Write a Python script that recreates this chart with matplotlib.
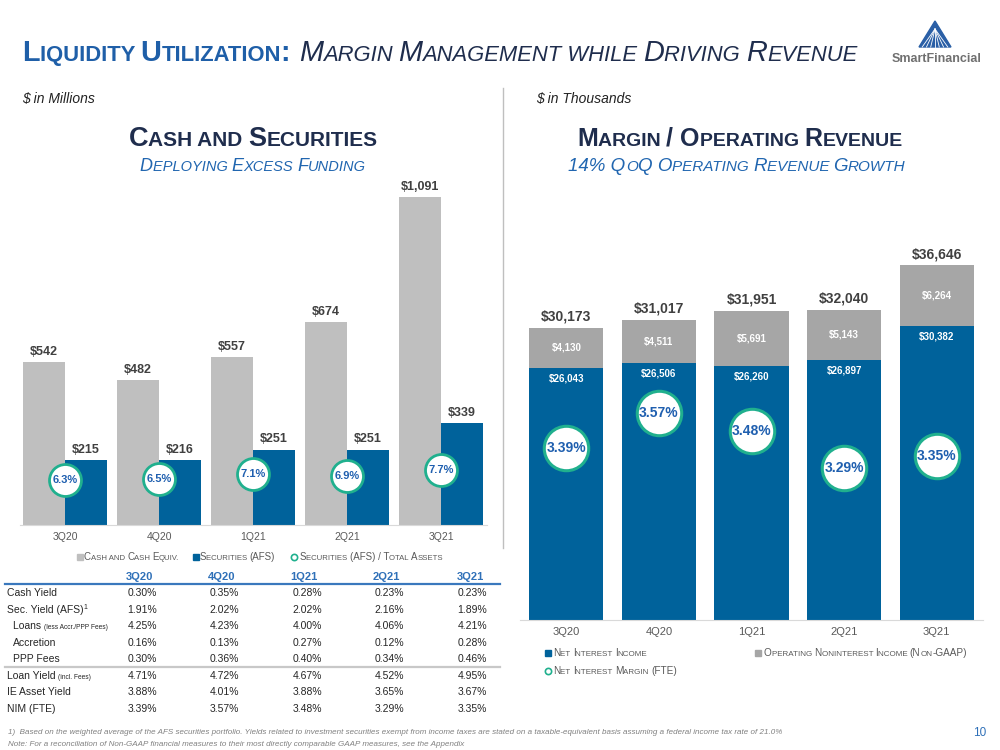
import numpy as np
import matplotlib
matplotlib.use("Agg")
import matplotlib.pyplot as plt
from matplotlib import font_manager
from matplotlib.lines import Line2D
from matplotlib.patches import Polygon

W, H = 1000, 750


def find_family(name, fallback):
    try:
        font_manager.findfont(name, fallback_to_default=False)
        return name
    except ValueError:
        return fallback


NARROW = find_family("Liberation Sans Narrow", "Liberation Sans")
SANS = "Liberation Sans"
plt.rcParams["font.family"] = SANS

# ---- data ----
quarters = ["3Q20", "4Q20", "1Q21", "2Q21", "3Q21"]
cash = [542, 482, 557, 674, 1091]
securities = [215, 216, 251, 251, 339]
sec_to_assets = [6.3, 6.5, 7.1, 6.9, 7.7]

net_interest = [26043, 26506, 26260, 26897, 30382]
nonint_income = [4130, 4511, 5691, 5143, 6264]
total_revenue = [30173, 31017, 31951, 32040, 36646]
nim = [3.39, 3.57, 3.48, 3.29, 3.35]

cash_yield = [0.30, 0.35, 0.28, 0.23, 0.23]
sec_yield = [1.91, 2.02, 2.02, 2.16, 1.89]
loans_core = [4.25, 4.23, 4.00, 4.06, 4.21]
accretion = [0.16, 0.13, 0.27, 0.12, 0.28]
ppp_fees = [0.30, 0.36, 0.40, 0.34, 0.46]
loan_yield = [4.71, 4.72, 4.67, 4.52, 4.95]
ie_asset_yield = [3.88, 4.01, 3.88, 3.65, 3.67]
nim_fte = [3.39, 3.57, 3.48, 3.29, 3.35]

BLUE = "#00629B"
NAVY = "#1F2D4D"
TITLE_BLUE = "#1F5FA8"
TEAL = "#20B08E"
TXT_BLUE = "#1F5FAF"
DARK = "#404040"
GREY_TXT = "#595959"

fig = plt.figure(figsize=(10, 7.5), dpi=100)
renderer = fig.canvas.get_renderer()


def px(x, y):
    return x / W, 1 - y / H


def advance(s, size, family, **kw):
    # pen advance of s, measured between two bars so bearings and spaces count
    if not s:
        return 0.0
    t = fig.text(0, 0, "|" + s + "|", fontsize=size, family=family, **kw)
    a = t.get_window_extent(renderer).width
    t.set_text("||")
    b = t.get_window_extent(renderer).width
    t.remove()
    return a - b


def run_text(x, y, runs, ha="left", family=SANS, **kw):
    # draws pieces of text of differing sizes one after another on a baseline
    pieces = []
    cursor = 0.0
    for text, size, *rest in runs:
        rise = rest[0] if rest else 0
        body = text.lstrip(" ")
        lead = advance(text[:len(text) - len(body)], size, family, **kw)
        if body.strip():
            t = fig.text(0, 0, body, fontsize=size, family=family, va="baseline", **kw)
            pieces.append((t, cursor + lead, rise))
        cursor += advance(text, size, family, **kw)
    start = x - {"left": 0, "center": cursor / 2, "right": cursor}[ha]
    for t, off, rise in pieces:
        t.set_position(px(start + off, y - rise))
    return cursor


def caps(s, big, small):
    # fake small caps: lower case letters drawn as smaller capitals
    runs = []
    for ch in s:
        if ch in ". " and runs:
            size = runs[-1][1]
        else:
            size = small if ch.islower() else big
        if runs and runs[-1][1] == size:
            runs[-1][0] += ch.upper()
        else:
            runs.append([ch.upper(), size])
    return runs


# ---- title ----
n = run_text(22, 61, caps("Liquidity Utilization: ", 20.8, 15.8), family=NARROW,
             color=TITLE_BLUE, weight="bold")
run_text(22 + n, 61, caps("Margin Management while Driving Revenue", 20.8, 15.8), family=NARROW,
         color=NAVY, style="italic")

# logo
fig.add_artist(Polygon([px(935, 21), px(919, 47), px(951, 47)], closed=True,
                       transform=fig.transFigure, color="#2A5FA6"))
for k in np.linspace(0.1, 0.9, 7):
    xe = 919 + 32 * k
    fig.add_artist(Line2D([935 / W, xe / W], [1 - 29 / H, 1 - 47 / H], color="white", lw=0.6,
                          transform=fig.transFigure))
fig.text(*px(937, 62), "SmartFinancial", fontsize=9, weight="bold", color="#707070",
         ha="center", va="baseline")

# sub headers
run_text(22, 103, [["$ in Millions", 10]], family=NARROW, style="italic", color="#222222")
run_text(536, 103, [["$ in Thousands", 10]], family=NARROW, style="italic", color="#222222")
fig.add_artist(Line2D([503 / W, 503 / W], [1 - 88 / H, 1 - 548 / H], color="#BFBFBF", lw=1,
                      transform=fig.transFigure))

run_text(253, 146, caps("Cash and Securities", 19.5, 15), ha="center", family=NARROW,
         color=NAVY, weight="bold")
run_text(253, 171, caps("Deploying Excess Funding", 13, 10.5), ha="center", family=NARROW,
         color="#2166B0", style="italic")
run_text(740, 146, caps("Margin / Operating Revenue", 18, 14), ha="center", family=NARROW,
         color=NAVY, weight="bold")
run_text(737, 171, caps("14% QoQ Operating Revenue Growth", 13.5, 11), ha="center", family=NARROW,
         color="#2166B0", style="italic")


def clean(ax, keep_bottom=True):
    for side in ("top", "right", "left"):
        ax.spines[side].set_visible(False)
    ax.spines["bottom"].set_visible(keep_bottom)
    ax.spines["bottom"].set_color("#D9D9D9")
    ax.set_yticks([])
    ax.patch.set_alpha(0)


# ---- left chart: cash and securities ----
x = np.arange(len(quarters))
w = 0.447
ax1 = fig.add_axes([20 / W, 1 - 525 / H, 467 / W, 345 / H])
ax1.bar(x - w / 2, cash, w, color="#BFBFBF")
ax1.bar(x + w / 2, securities, w, color=BLUE)
ax1.set_xlim(-0.479, 4.489)
ax1.set_ylim(0, 1147)
for i in range(len(x)):
    ax1.annotate(f"${cash[i]:,}", (x[i] - w / 2, cash[i]), xytext=(0, 3), textcoords="offset points",
                 ha="center", va="bottom", fontsize=9, weight="bold", color=DARK)
    ax1.annotate(f"${securities[i]:,}", (x[i] + w / 2, securities[i]), xytext=(0, 3),
                 textcoords="offset points", ha="center", va="bottom", fontsize=9, weight="bold",
                 color=DARK)
ax1.set_xticks(x, quarters)
ax1.tick_params(length=0, labelsize=7.5, labelcolor=GREY_TXT, pad=5)
clean(ax1)

ax1b = ax1.twinx()
ax1b.set_ylim(0, 48.3)
ax1b.plot(x, sec_to_assets, "o", ms=23, mfc="white", mec=TEAL, mew=2)
for i, v in enumerate(sec_to_assets):
    ax1b.text(x[i], v, f"{v:.1f}%", ha="center", va="center", fontsize=8, weight="bold", color=TXT_BLUE)
clean(ax1b, keep_bottom=False)

# left legend
fig.add_artist(Line2D([80 / W], [1 - 557 / H], marker="s", ms=4.5, color="#BFBFBF", ls="none",
                      transform=fig.transFigure))
run_text(84, 560, caps("Cash and Cash Equiv.", 7, 5.6), color=GREY_TXT)
fig.add_artist(Line2D([196 / W], [1 - 557 / H], marker="s", ms=4.5, color=BLUE, ls="none",
                      transform=fig.transFigure))
run_text(200, 560, caps("Securities (AFS)", 7, 5.6), color=GREY_TXT)
fig.add_artist(Line2D([294 / W], [1 - 557 / H], marker="o", ms=4.5, mfc="white", mec=TEAL, mew=1.2,
                      ls="none", transform=fig.transFigure))
run_text(300, 560, caps("Securities (AFS) / Total Assets", 7, 5.6), color=GREY_TXT)

# ---- table ----
val_right = [157, 239, 322, 404, 487]
head_center = [139, 222, 304, 386, 470]
row_y = [593, 610, 626, 643, 659, 676, 692, 709]
TBL = "#262626"
for cx, q in zip(head_center, quarters):
    fig.text(*px(cx, 577), q, fontsize=8, weight="bold", color="#2F70B8", ha="center", va="center")
fig.add_artist(Line2D([5 / W, 500 / W], [1 - 584 / H] * 2, color="#3A78BD", lw=1.6,
                      transform=fig.transFigure))
fig.add_artist(Line2D([5 / W, 500 / W], [1 - 667 / H] * 2, color="#C8C8C8", lw=1.6,
                      transform=fig.transFigure))

row_labels = [
    (7, [["Cash Yield", 7.5]]),
    (7, [["Sec. Yield (AFS)", 7.5], ["1", 5, 4]]),
    (13, [["Loans ", 7.5], ["(less Accr./PPP Fees)", 4.8]]),
    (13, [["Accretion", 7.5]]),
    (13, [["PPP Fees", 7.5]]),
    (7, [["Loan Yield ", 7.5], ["(incl. Fees)", 4.8]]),
    (7, [["IE Asset Yield", 7.5]]),
    (7, [["NIM (FTE)", 7.5]]),
]
table_values = [cash_yield, sec_yield, loans_core, accretion, ppp_fees, loan_yield, ie_asset_yield, nim_fte]
for (lx, runs), yy, vals in zip(row_labels, row_y, table_values):
    run_text(lx, yy + 3, runs, color=TBL)
    for rx, v in zip(val_right, vals):
        fig.text(*px(rx, yy), f"{v:.2f}%", fontsize=7.5, color=TBL, ha="right", va="center")

# ---- right chart: margin / operating revenue ----
ax2 = fig.add_axes([520 / W, 1 - 620 / H, 463 / W, 380 / H])
ax2.bar(x, net_interest, 0.8, color=BLUE)
ax2.bar(x, nonint_income, 0.8, bottom=net_interest, color="#A6A6A6")
ax2.set_xlim(-0.5, 4.5)
ax2.set_ylim(0, 39268)
for i in range(len(x)):
    ax2.annotate(f"${total_revenue[i]:,}", (x[i], total_revenue[i]), xytext=(0, 3),
                 textcoords="offset points", ha="center", va="bottom", fontsize=10, weight="bold",
                 color=DARK)
    ax2.text(x[i], net_interest[i] + nonint_income[i] / 2, f"${nonint_income[i]:,}", ha="center",
             va="center", fontsize=7, weight="bold", color="white")
    ax2.annotate(f"${net_interest[i]:,}", (x[i], net_interest[i]), xytext=(0, -7.5),
                 textcoords="offset points", ha="center", va="center", fontsize=7, weight="bold",
                 color="white")
ax2.set_xticks(x, quarters)
ax2.tick_params(length=0, labelsize=8, labelcolor=GREY_TXT, pad=5)
clean(ax2)

ax2b = ax2.twinx()
ax2b.set_ylim(2.514, 4.453)
ax2b.plot(x, nim, "o", ms=32, mfc="white", mec=TEAL, mew=2.2)
for i, v in enumerate(nim):
    ax2b.text(x[i], v, f"{v:.2f}%", ha="center", va="center", fontsize=10, weight="bold", color=TXT_BLUE)
clean(ax2b, keep_bottom=False)

# right legend
fig.add_artist(Line2D([548 / W], [1 - 653 / H], marker="s", ms=4.5, color=BLUE, ls="none",
                      transform=fig.transFigure))
run_text(553, 656, caps("Net Interest Income", 7.2, 5.8), color=GREY_TXT)
fig.add_artist(Line2D([758 / W], [1 - 653 / H], marker="s", ms=4.5, color="#A6A6A6", ls="none",
                      transform=fig.transFigure))
run_text(764, 656, caps("Operating Noninterest Income (Non-GAAP)", 7.2, 5.8), color=GREY_TXT)
fig.add_artist(Line2D([548 / W], [1 - 671 / H], marker="o", ms=4.5, mfc="white", mec=TEAL, mew=1.2,
                      ls="none", transform=fig.transFigure))
run_text(553, 674, caps("Net Interest Margin (FTE)", 7.2, 5.8), color=GREY_TXT)

# ---- footnotes ----
fig.text(*px(8, 733), "1)  Based on the weighted average of the AFS securities portfolio. Yields related "
         "to investment securities exempt from income taxes are stated on a taxable-equivalent basis "
         "assuming a federal income tax rate of 21.0%", fontsize=5.8, style="italic", color="#808080",
         va="center")
fig.text(*px(8, 745), "Note: For a reconciliation of Non-GAAP financial measures to their most directly "
         "comparable GAAP measures, see the Appendix", fontsize=5.8, style="italic", color="#808080",
         va="center")
fig.text(*px(986, 733), "10", fontsize=8.5, color="#2F70B8", ha="right", va="center")

fig.savefig("out.png", dpi=100)
